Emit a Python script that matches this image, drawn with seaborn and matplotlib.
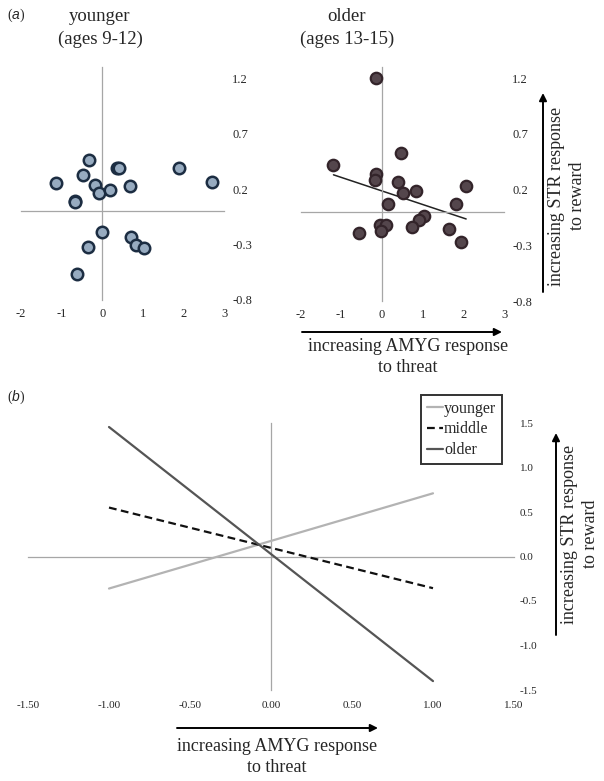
import matplotlib
matplotlib.use("Agg")
import matplotlib.pyplot as plt
import seaborn as sns
import pandas as pd

# panel (a) scatter data
young_x = [-1.15, -0.33, -0.47, -0.66, -0.68, -0.18, -0.07, 0.19, 0.37, 0.42,
           0.68, 1.89, 2.70, 0.00, 0.72, 0.83, 1.02, -0.34, -0.62]
young_y = [0.25, 0.46, 0.33, 0.09, 0.08, 0.235, 0.16, 0.195, 0.39, 0.39,
           0.23, 0.39, 0.26, -0.19, -0.23, -0.30, -0.33, -0.32, -0.57]

old_x = [-0.15, -1.19, 0.46, -0.15, -0.17, 0.40, 0.52, 0.83, 0.14, 2.07,
         1.83, 1.04, 0.90, 0.74, -0.04, 0.11, -0.02, -0.56, 1.64, 1.94]
old_y = [1.20, 0.42, 0.53, 0.34, 0.29, 0.27, 0.165, 0.19, 0.07, 0.23,
         0.07, -0.04, -0.075, -0.14, -0.12, -0.12, -0.17, -0.19, -0.15, -0.27]

a_xticks = [-2, -1, 0, 1, 2, 3]
a_yticks = [-0.8, -0.3, 0.2, 0.7, 1.2]

# panel (b) simple slopes
groups = ["younger", "middle", "older"]
b_x = [-1.0, 1.0]
b_younger = [-0.36, 0.71]
b_middle = [0.55, -0.356]
b_older = [1.455, -1.40]
b_xticks = [-1.5, -1.0, -0.5, 0.0, 0.5, 1.0, 1.5]
b_yticks = [-1.5, -1.0, -0.5, 0.0, 0.5, 1.0, 1.5]

sns.set_style("white")
plt.rcParams["font.family"] = ["Liberation Serif", "DejaVu Serif"]
plt.rcParams["mathtext.fontset"] = "custom"
plt.rcParams["mathtext.it"] = "Liberation Sans:italic"
plt.rcParams["mathtext.rm"] = "Liberation Sans"

W, H = 604, 781
fig = plt.figure(figsize=(W / 100, H / 100), dpi=100)


def box(x0, x1, ytop, ybot):
    return [x0 / W, 1 - ybot / H, (x1 - x0) / W, (ybot - ytop) / H]


def fxy(x, y):
    return (x / W, 1 - y / H)


axis_gray = "#a6a6a6"


def excel_axes(ax, xticks, yticks, xfmt, yfmt, xpad, ypad, fs):
    for s in ["top", "right"]:
        ax.spines[s].set_visible(False)
    ax.spines["bottom"].set_position(("data", 0))
    ax.spines["left"].set_position(("data", 0))
    for s in ["bottom", "left"]:
        ax.spines[s].set_color(axis_gray)
        ax.spines[s].set_linewidth(0.9)
    ax.set_xticks(xticks)
    ax.set_yticks(yticks)
    ax.tick_params(labelbottom=False, labelleft=False, direction="out",
                   length=3, width=0.8, color=axis_gray)
    ax.set_xlabel("")
    ax.set_ylabel("")
    sx = ax.secondary_xaxis("bottom")
    sx.set_xticks(xticks)
    sx.set_xticklabels([xfmt.format(v) for v in xticks], fontsize=fs)
    sx.tick_params(length=0, pad=xpad)
    sx.spines["bottom"].set_visible(False)
    sy = ax.secondary_yaxis("right")
    sy.set_yticks(yticks)
    sy.set_yticklabels([yfmt.format(v) for v in yticks], fontsize=fs)
    sy.tick_params(length=0, pad=ypad)
    sy.spines["right"].set_visible(False)


# (a) younger
ax1 = fig.add_axes(box(21, 224, 67, 300))
sns.scatterplot(x=young_x, y=young_y, ax=ax1, s=68, color="#97abc0",
                edgecolor="#1c2d42", linewidth=1.8, zorder=3)
ax1.set_xlim(-2, 3)
ax1.set_ylim(-0.8, 1.3)
excel_axes(ax1, a_xticks, a_yticks, "{:g}", "{:g}", 6, 6, 9)

# (a) older
ax2 = fig.add_axes(box(300.5, 504, 67, 301))
sns.scatterplot(x=old_x, y=old_y, ax=ax2, s=68, color="#54464c",
                edgecolor="#33242a", linewidth=1.6, zorder=3)
sns.regplot(x=old_x, y=old_y, ax=ax2, scatter=False, ci=None, truncate=True,
            line_kws=dict(color="#222222", lw=1.1, zorder=2))
ax2.set_xlim(-2, 3)
ax2.set_ylim(-0.8, 1.3)
excel_axes(ax2, a_xticks, a_yticks, "{:g}", "{:g}", 6, 6, 9)

# (b) slopes
df = pd.DataFrame({
    "x": b_x * 3,
    "y": b_younger + b_middle + b_older,
    "group": [g for g in groups for _ in b_x],
})
ax3 = fig.add_axes(box(28, 514, 423, 690))
sns.lineplot(data=df, x="x", y="y", hue="group", style="group", ax=ax3,
             palette={"younger": "#b3b3b3", "middle": "#111111", "older": "#555555"},
             dashes={"younger": "", "middle": (3.5, 2), "older": ""},
             linewidth=1.6, legend=True, zorder=3)
ax3.set_xlim(-1.5, 1.5)
ax3.set_ylim(-1.5, 1.5)
excel_axes(ax3, b_xticks, b_yticks, "{:.2f}", "{:.1f}", 8, 4, 8)
leg = ax3.legend(loc="upper left", bbox_to_anchor=fxy(421, 395),
                 bbox_transform=fig.transFigure, frameon=True, fancybox=False,
                 fontsize=11.5, handlelength=1.0, handletextpad=0.1,
                 labelspacing=0.3, borderpad=0.35, borderaxespad=0)
leg.get_frame().set_edgecolor("black")
leg.get_frame().set_linewidth(1.4)

# panel labels and titles
fig.text(*fxy(7, 15), r"($\mathit{a}$)", fontsize=10, va="center", ha="left")
fig.text(*fxy(7, 397), r"($\mathit{b}$)", fontsize=10, va="center", ha="left")
fig.text(*fxy(100, 28), "younger\n(ages 9-12)", fontsize=13.5, ha="center",
         va="center", linespacing=1.4)
fig.text(*fxy(347, 28), "older\n(ages 13-15)", fontsize=13.5, ha="center",
         va="center", linespacing=1.4)

arrow = dict(arrowstyle="-|>", color="black", lw=1.4, mutation_scale=11,
             shrinkA=0, shrinkB=0)


def h_label(x0, x1, y, tx, ty):
    fig.add_artist(matplotlib.patches.FancyArrowPatch(
        fxy(x0, y), fxy(x1, y), transform=fig.transFigure, **arrow))
    fig.text(*fxy(tx, ty), "increasing AMYG response\nto threat", fontsize=13,
             ha="center", va="center", linespacing=1.25)


def v_label(x, y0, y1, tx, ty):
    fig.add_artist(matplotlib.patches.FancyArrowPatch(
        fxy(x, y0), fxy(x, y1), transform=fig.transFigure, **arrow))
    fig.text(*fxy(tx, ty), "increasing STR response\nto reward", fontsize=13,
             ha="center", va="center", rotation=90, linespacing=1.25)


h_label(302, 502, 332, 408, 357)
v_label(543, 292, 93, 567, 196)
h_label(177, 378, 728, 277, 757)
v_label(556, 635, 433, 580, 534)

fig.savefig("out.png", dpi=100)
